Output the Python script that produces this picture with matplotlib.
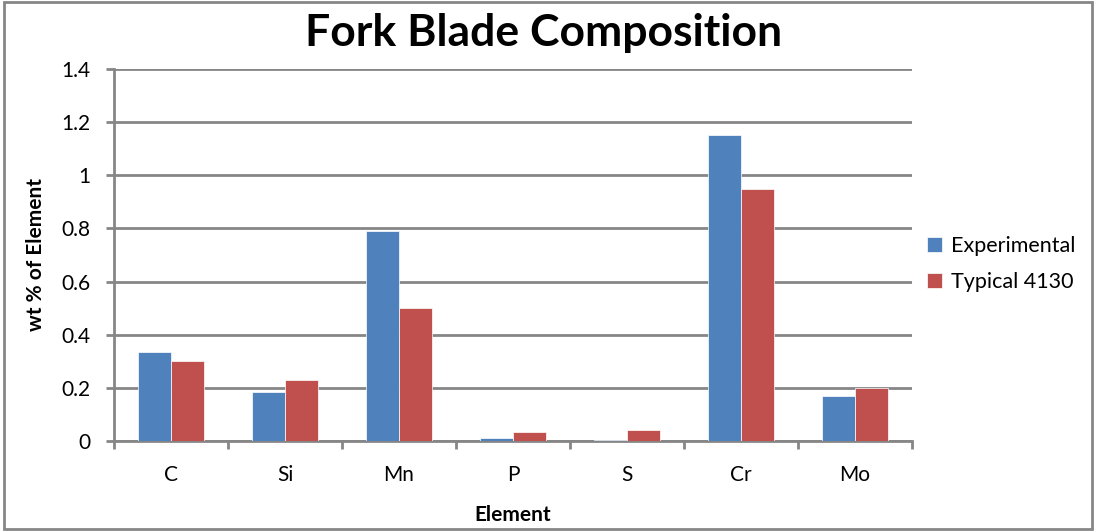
import matplotlib
matplotlib.use("Agg")
import matplotlib.pyplot as plt
import numpy as np

plt.rcParams['font.family'] = ['Lato', 'DejaVu Sans']

elements = ["C", "Si", "Mn", "P", "S", "Cr", "Mo"]
experimental = [0.335, 0.185, 0.79, 0.011, 0.004, 1.15, 0.17]
typical_4130 = [0.30, 0.23, 0.50, 0.035, 0.041, 0.95, 0.20]

blue = "#4F81BD"
red = "#C0504D"
grey = "#868686"

fig = plt.figure(figsize=(10.94, 5.31), dpi=100)
ax = fig.add_axes([0.1042, 0.1695, 0.7294, 0.7006])

x = np.arange(len(elements))
w = 0.286
ax.bar(x - w / 2, experimental, w, color=blue, edgecolor="white", linewidth=0.5, label="Experimental", zorder=3)
ax.bar(x + w / 2, typical_4130, w, color=red, edgecolor="white", linewidth=0.5, label="Typical 4130", zorder=3)

ax.set_xlim(-0.5, len(elements) - 0.5)
ax.set_ylim(0, 1.4)
ax.set_yticks(np.arange(0, 1.41, 0.2))
ax.set_yticklabels(["0", "0.2", "0.4", "0.6", "0.8", "1", "1.2", "1.4"], fontsize=15)
ax.yaxis.grid(True, color=grey, linewidth=2)
ax.set_axisbelow(True)

# category labels in the middle, tick marks on the boundaries
ax.set_xticks(x)
ax.set_xticklabels(elements, fontsize=15)
ax.tick_params(axis="x", length=0, pad=17)
ax.set_xticks(np.arange(-0.5, len(elements)), minor=True)
ax.tick_params(axis="x", which="minor", length=6, width=2, color=grey, direction="out")
ax.tick_params(axis="y", length=6, width=2, color=grey, direction="out", pad=11)

for side in ["top", "right"]:
    ax.spines[side].set_visible(False)
for side in ["left", "bottom"]:
    ax.spines[side].set_color(grey)
    ax.spines[side].set_linewidth(2)

ax.set_xlabel("Element", fontsize=15, fontweight="bold", labelpad=15)
ax.set_ylabel("wt % of Element", fontsize=15, fontweight="bold", labelpad=11)
fig.suptitle("Fork Blade Composition", fontsize=32, fontweight="bold", x=0.497, y=0.975)

ax.legend(loc="center left", bbox_to_anchor=(1.0, 0.475), frameon=False, fontsize=15.5,
          handlelength=0.7, handleheight=0.7, handletextpad=0.4, labelspacing=0.75,
          borderaxespad=0.3)

# outer chart border
fig.patches.append(plt.Rectangle((0.004, 0.003), 0.994, 0.994, transform=fig.transFigure,
                                 fill=False, edgecolor=grey, linewidth=2))

fig.savefig("out.png", dpi=100)
